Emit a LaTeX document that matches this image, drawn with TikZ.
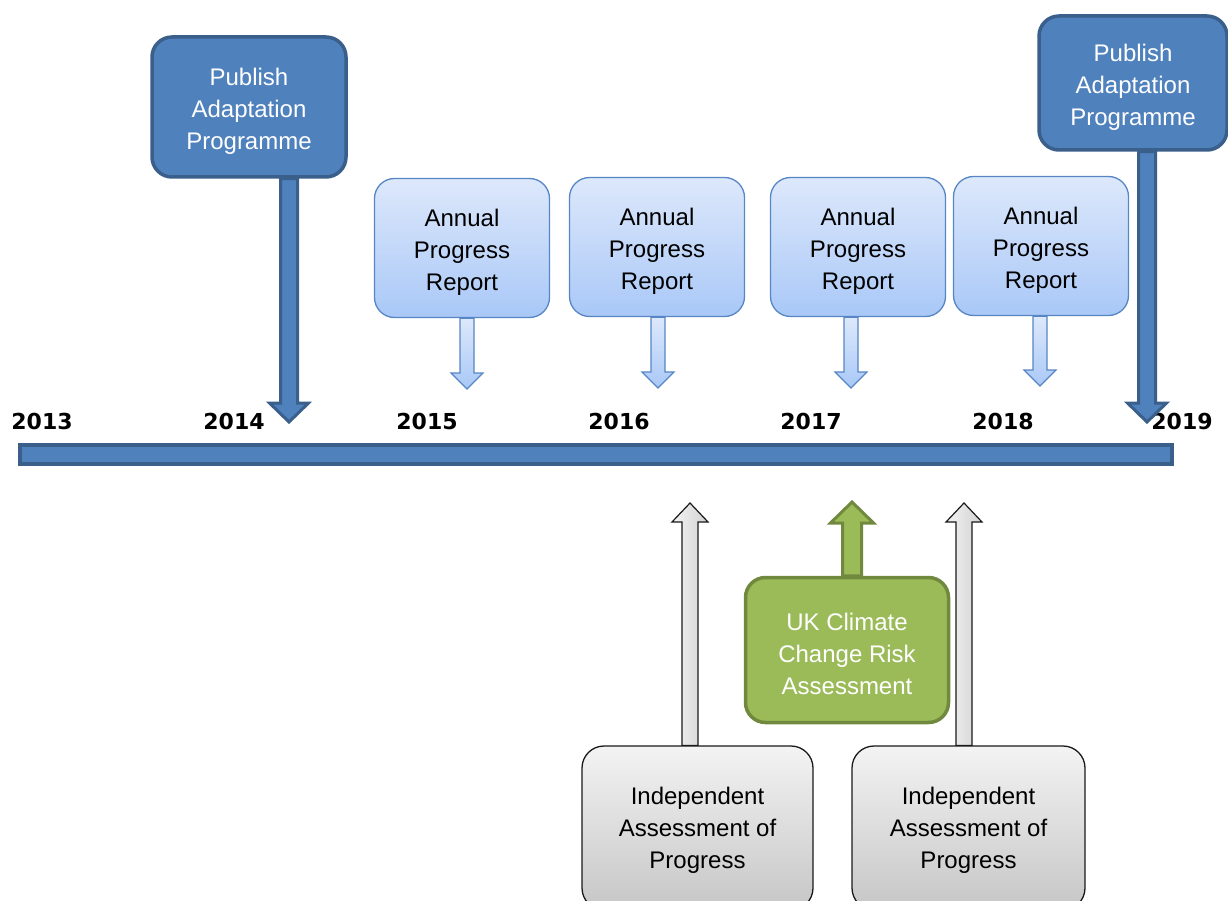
\documentclass[tikz,border=0pt]{standalone}
\usepackage{fontspec}
\setmainfont{Liberation Sans}
\newfontfamily\yearfont{DejaVu Sans}
\usetikzlibrary{calc}

\definecolor{planfill}{HTML}{4F81BD}
\definecolor{planedge}{HTML}{3A5F8B}
\definecolor{reporttop}{HTML}{DDE8FB}
\definecolor{reportbot}{HTML}{A9C8F7}
\definecolor{reportedge}{HTML}{5686C4}
\definecolor{riskfill}{HTML}{9BBB59}
\definecolor{riskedge}{HTML}{71893F}
\definecolor{assesstop}{HTML}{F3F3F3}
\definecolor{assessbot}{HTML}{C6C6C6}
\definecolor{assessedge}{HTML}{1A1A1A}

% block arrow from #2 to tip #3: #4 half shaft width, #5 half head width, #6 head length
\newcommand{\blockarrow}[6]{%
  \path coordinate (hb) at ($(#3)!#6!(#2)$);
  \draw[#1] ($(#2)+(-#4,0)$) -- ($(hb)+(-#4,0)$) -- ($(hb)+(-#5,0)$) -- (#3)
    -- ($(hb)+(#5,0)$) -- ($(hb)+(#4,0)$) -- ($(#2)+(#4,0)$) -- cycle;}

\tikzset{
  boxtext/.style={align=center, font=\fontsize{24}{32}\selectfont, inner sep=0pt},
  boxshape/.style={rectangle, inner sep=0pt},
  % box caption, set as a label centred a little below the box centre
  caption/.style={label={[boxtext, text=#1, yshift=-4pt]center:{\captiontext}}},
  smallcaption/.style={label={[boxtext, text=#1, yshift=-2pt]center:{\captiontext}}},
  planbox/.style={boxshape, rounded corners=20, fill=planfill, draw=planedge,
    line width=3.5},
  reportbox/.style={boxshape, rounded corners=20, top color=reporttop,
    bottom color=reportbot, draw=reportedge, line width=1.3},
  riskbox/.style={boxshape, rounded corners=20, fill=riskfill, draw=riskedge,
    line width=3.5},
  assessbox/.style={boxshape, rounded corners=22, top color=assesstop,
    bottom color=assessbot, draw=assessedge, line width=1.3},
  planarrow/.style={fill=planfill, draw=planedge, line width=3, line join=miter},
  reportarrow/.style={top color=reporttop, bottom color=reportbot, draw=reportedge,
    line width=1.2},
  riskarrow/.style={fill=riskfill, draw=riskedge, line width=3},
  assessarrow/.style={left color=assesstop, right color=assessbot!80!white,
    draw=assessedge, line width=1.2},
  year/.style={font=\yearfont\bfseries\fontsize{22}{26}\selectfont, anchor=base, inner sep=0pt},
  timeline/.style={rectangle, fill=planfill, draw=planedge, line width=4, inner sep=0pt}
}

\begin{document}
\begin{tikzpicture}[x=1pt, y=-1pt]
  \useasboundingbox (0,0) rectangle (1228,901);
  \clip (0,0) rectangle (1228,901);

  % time axis
  \node[timeline, minimum width=1152, minimum height=19] (axis) at (596,454.5) {};
  \foreach \yr/\xx in {2013/42, 2014/234, 2015/427, 2016/619, 2017/811, 2018/1003, 2019/1182}
    \node[year] (y\yr) at (\xx,429) {\yr};

  % adaptation programme publications
  \def\captiontext{Publish\\Adaptation\\Programme}
  \coordinate (tipA) at (289,422);
  \coordinate (tipB) at (1147,422);
  \node[planbox, caption=white, minimum width=194, minimum height=140] (pub1) at (249,107) {};
  \node[planbox, caption=white, minimum width=188, minimum height=134] (pub2) at (1133,83) {};
  \path coordinate (sA) at (tipA |- pub1.south) coordinate (sB) at (tipB |- pub2.south);
  \blockarrow{planarrow}{sA}{tipA}{8.5}{19.5}{19pt}
  \blockarrow{planarrow}{sB}{tipB}{8.5}{19.5}{19pt}

  % annual progress reports
  \def\captiontext{Annual\\Progress\\Report}
  \foreach \i/\bx/\by/\ax/\ay in {1/462/248/467/389, 2/657/247/658/388, 3/858/247/851/388, 4/1041/246/1040/386} {
    \coordinate (rtip\i) at (\ax,\ay);
    \node[reportbox, caption=black, minimum width=175, minimum height=139] (rep\i) at (\bx,\by) {};
    \path coordinate (rs\i) at (rtip\i |- rep\i.south);
    \blockarrow{reportarrow}{rs\i}{rtip\i}{7}{16}{16pt}
  }

  % risk assessment
  \def\captiontext{UK Climate\\Change Risk\\Assessment}
  \coordinate (gtip) at (852,502);
  \node[riskbox, caption=white, minimum width=203, minimum height=145] (risk) at (847,650) {};
  \path coordinate (gs) at (gtip |- risk.north);
  \blockarrow{riskarrow}{gs}{gtip}{9.5}{21.5}{21pt}

  % independent assessments
  \def\captiontext{Independent\\Assessment of\\Progress}
  \coordinate (itip1) at (690,503);
  \coordinate (itip2) at (964,503);
  \node[assessbox, smallcaption=black, minimum width=231, minimum height=164] (ind1) at (697.5,828) {};
  \node[assessbox, smallcaption=black, minimum width=233, minimum height=164] (ind2) at (968.5,828) {};
  \path coordinate (is1) at (itip1 |- ind1.north) coordinate (is2) at (itip2 |- ind2.north);
  \blockarrow{assessarrow}{is1}{itip1}{8}{18}{19pt}
  \blockarrow{assessarrow}{is2}{itip2}{8}{18}{19pt}
\end{tikzpicture}
\end{document}
